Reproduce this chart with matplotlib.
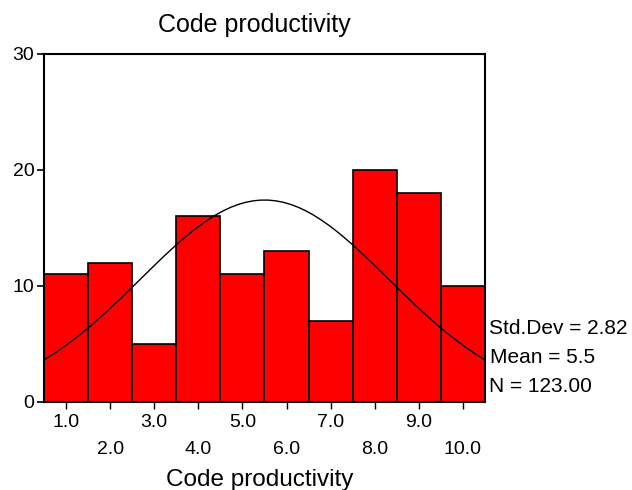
import numpy as np
import matplotlib
matplotlib.use("Agg")
import matplotlib.pyplot as plt

plt.rcParams['font.family'] = ['Liberation Sans', 'DejaVu Sans']

centers = [1.0, 2.0, 3.0, 4.0, 5.0, 6.0, 7.0, 8.0, 9.0, 10.0]
counts = [11, 12, 5, 16, 11, 13, 7, 20, 18, 10]
tick_labels = ['1.0', '2.0', '3.0', '4.0', '5.0', '6.0', '7.0', '8.0', '9.0', '10.0']
std_dev = 2.82
mean = 5.5
n = 123

fig = plt.figure(figsize=(6.32, 4.9), dpi=100)
ax = fig.add_axes([0.0696, 0.180, 0.6978, 0.710])

ax.bar(centers, counts, width=1.0, color='#ff0000', edgecolor='black', linewidth=1.2, zorder=2)

# normal curve scaled to counts (bin width 1)
xs = np.linspace(0.5, 10.5, 60)
ys = n * 1.0 / (std_dev * np.sqrt(2 * np.pi)) * np.exp(-0.5 * ((xs - mean) / std_dev) ** 2)
ax.plot(xs, ys, color='black', linewidth=1.0, zorder=3)

ax.set_xlim(0.5, 10.5)
ax.set_ylim(0, 30)
ax.set_yticks([0, 10, 20, 30])
ax.set_xticks(centers)
labs = [t if i % 2 == 0 else '\n' + t for i, t in enumerate(tick_labels)]
ax.set_xticklabels(labs, fontsize=14, linespacing=1.75)
ax.tick_params(axis='y', labelsize=14, length=5, width=1.2, pad=2)
ax.tick_params(axis='x', length=5, width=1.0, pad=4)
for s in ax.spines.values():
    s.set_linewidth(1.5)

fig.text(0.402, 0.948, 'Code productivity', fontsize=18, ha='center', va='center')
fig.text(0.411, 0.020, 'Code productivity', fontsize=17.5, ha='center', va='center')

fig.text(0.773, 0.330, 'Std.Dev = %.2f' % std_dev, fontsize=15, va='center')
fig.text(0.775, 0.271, 'Mean = %.1f' % mean, fontsize=15, va='center')
fig.text(0.773, 0.212, 'N = %.2f' % n, fontsize=15, va='center')

fig.savefig('out.png', dpi=100)
